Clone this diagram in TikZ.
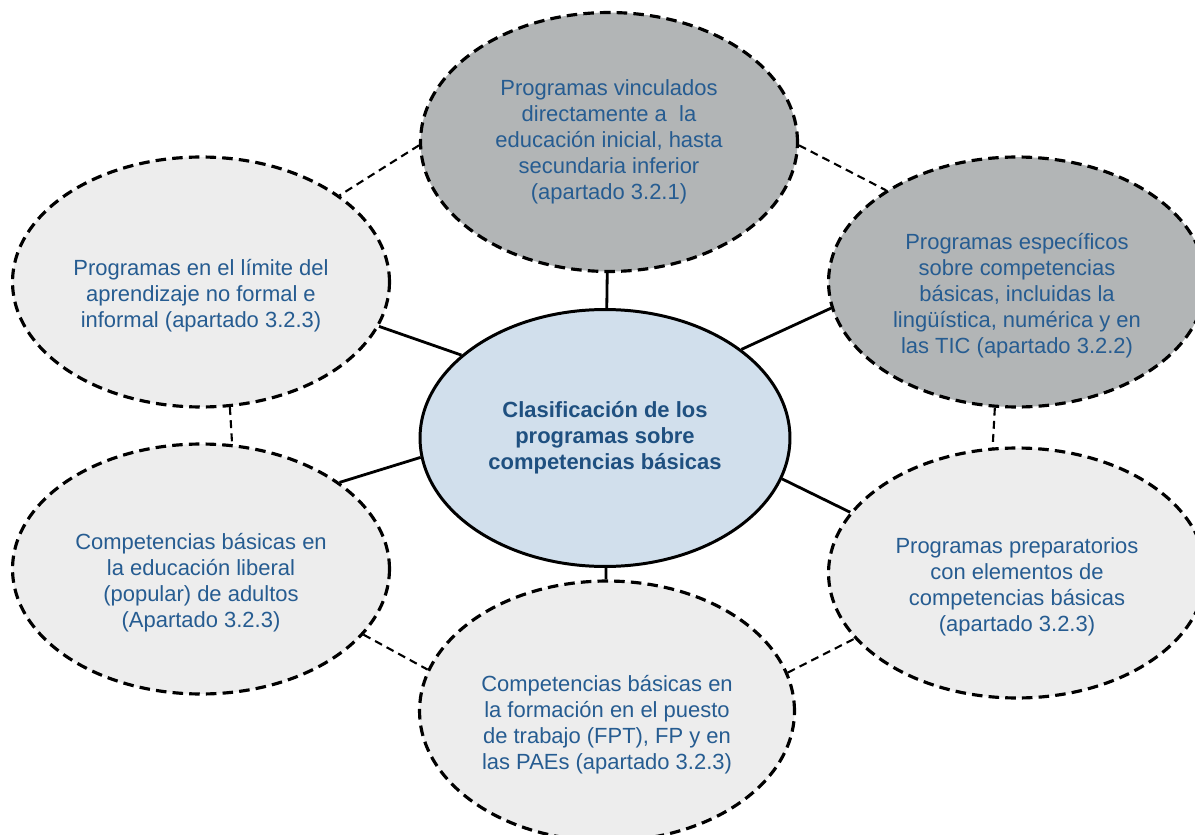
\documentclass[tikz,border=0pt]{standalone}
\usepackage{fontspec}
\setmainfont{Liberation Sans}
\usetikzlibrary{shapes.geometric}

\definecolor{txtblue}{RGB}{38,92,145}
\definecolor{hubblue}{RGB}{31,80,128}
\definecolor{darkfill}{RGB}{178,181,182}
\definecolor{lightfill}{RGB}{237,237,237}
\definecolor{hubfill}{RGB}{209,223,236}

\begin{document}
\begin{tikzpicture}[x=0.02cm, y=-0.02cm,
  sat/.style={ellipse, draw, line width=1.8pt, dash pattern=on 6pt off 3.5pt,
    inner sep=0pt, minimum width=7.54cm, minimum height=5cm, fill=lightfill},
  txt/.style={align=center, text=txtblue, font=\fontsize{12.5}{14.8}\selectfont},
  spoke/.style={line width=1.6pt},
  ring/.style={line width=1.2pt, dash pattern=on 4.5pt off 3pt}]
\clip (0,0) rectangle (1195,834);

% draw the hub in the middle
\node[ellipse, draw, line width=1.7pt, fill=hubfill, inner sep=0pt,
  minimum width=7.4cm, minimum height=5.14cm, txt, text=hubblue,
  font=\fontsize{12.5}{14.8}\selectfont\bfseries] (hub) at (605,438) {
  Clasificación de los\\
  programas sobre\\
  competencias básicas
};

% draw the six ellipses round it
\node[sat, fill=darkfill, minimum height=5.18cm, txt] (top) at (609,142) {
  Programas vinculados\\
  directamente a \ la\\
  educación inicial, hasta\\
  secundaria inferior\\
  (apartado 3.2.1)
};
\node[sat, fill=darkfill, label={[txt, yshift=-8pt]center:{
  Programas específicos\\
  sobre competencias\\
  básicas, incluidas la\\
  lingüística, numérica y en\\
  las TIC (apartado 3.2.2)}}] (ur) at (1017,282) {};
\node[sat, label={[txt, yshift=-8pt]center:{
  Programas en el límite del\\
  aprendizaje no formal e\\
  informal (apartado 3.2.3)}}] (ul) at (201,282) {};
\node[sat, label={[txt, yshift=-8pt]center:{
  Competencias básicas en\\
  la educación liberal\\
  (popular) de adultos\\
  (Apartado 3.2.3)}}] (ll) at (201,569) {};
\node[sat, label={[txt, yshift=-8pt]center:{
  Programas preparatorios\\
  con elementos de\\
  competencias básicas\\
  (apartado 3.2.3)}}] (lr) at (1017,573) {};
\node[sat, minimum width=7.5cm, minimum height=5.2cm, label={[txt, yshift=-8pt]center:{
  Competencias básicas en\\
  la formación en el puesto\\
  de trabajo (FPT), FP y en\\
  las PAEs (apartado 3.2.3)}}] (bot) at (607,711) {};

% solid spokes from the hub
\draw[spoke] (hub) -- (top);
\draw[spoke] (hub.150) -- (ul.-14);
\draw[spoke] (hub.33) -- (ur.188);
\draw[spoke] (hub.186) -- (ll.32);
\draw[spoke] (hub.-13) -- (lr.160);
\draw[spoke] (hub) -- (bot);

% dashed ring between neighbours
\draw[ring] (top.181) -- (ul.32);
\draw[ring] (top.-1) -- (ur.145);
\draw[ring] (ul.-77) -- (ll.76);
\draw[ring] (ur.-100) -- (lr.101);
\draw[ring] (ll.-22) -- (bot.167);
\draw[ring] (bot.12) -- (lr.202);
\end{tikzpicture}
\end{document}
